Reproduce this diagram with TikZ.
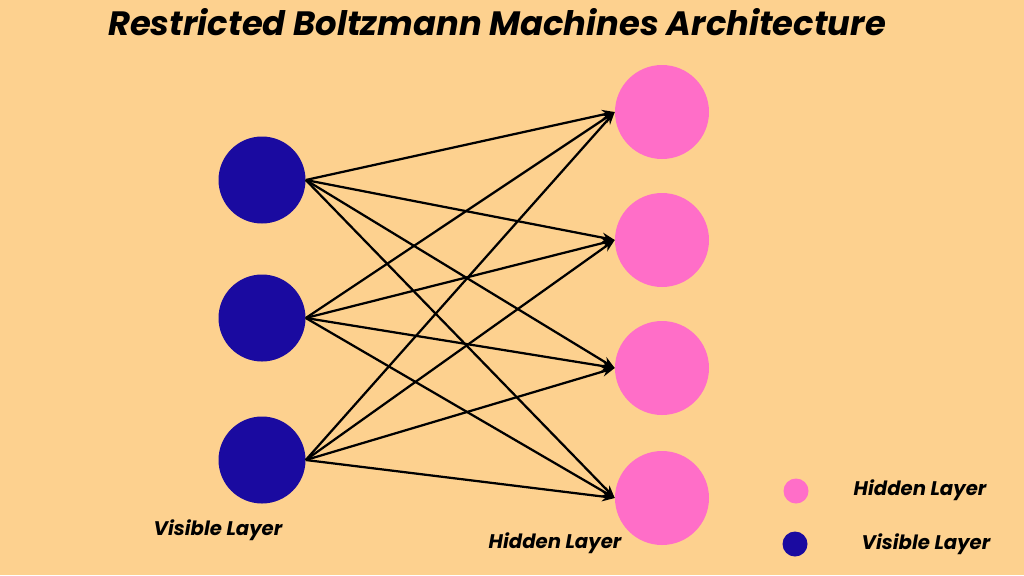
\documentclass[tikz,border=0pt]{standalone}
\usepackage{fontspec}
\setmainfont{Poppins}
\usetikzlibrary{arrows.meta}
\definecolor{bgcol}{HTML}{FDD18F}
\definecolor{viscol}{HTML}{1A0AA0}
\definecolor{hidcol}{HTML}{FF6EC8}
\begin{document}
\begin{tikzpicture}[
  x=0.025cm, y=-0.025cm,
  > = {Stealth[length=9pt,width=7pt]},
  visible/.style = {circle,fill=viscol,minimum size=87*0.025cm,inner sep=0pt},
  hidden/.style = {circle,fill=hidcol,minimum size=94*0.025cm,inner sep=0pt},
  lbl/.style = {font=\fontsize{14}{16}\selectfont\bfseries\itshape}
  ]
	\fill[bgcol] (0,0) rectangle (1024,575);
	\useasboundingbox (0,0) rectangle (1024,575);

	\node[font=\fontsize{24}{28}\selectfont\bfseries\itshape] (title) at (497,22) {Restricted Boltzmann Machines Architecture};

	% visible layer
	\node[visible] (v1) at (262,180) {};
	\node[visible] (v2) at (262,318) {};
	\node[visible] (v3) at (262,460) {};

	% hidden layer
	\node[hidden] (h1) at (662,112) {};
	\node[hidden] (h2) at (662,240) {};
	\node[hidden] (h3) at (662,368) {};
	\node[hidden] (h4) at (662,498) {};

	\foreach \v in {1,2,3}
	  \foreach \h in {1,2,3,4}
	    \draw[->,line width=1.6pt] (v\v.east) -- (h\h.west);

	\node[lbl] (vl) at (218,530) {Visible Layer};
	\node[lbl] (hl) at (555,543) {Hidden Layer};

	% legend
	\node[circle,fill=hidcol,minimum size=25*0.025cm,inner sep=0pt] (lh) at (796,491) {};
	\node[circle,fill=viscol,minimum size=25*0.025cm,inner sep=0pt] (lv) at (795,544) {};
	\node[lbl] (lht) at (920,490) {Hidden Layer};
	\node[lbl] (lvt) at (926,544) {Visible Layer};
\end{tikzpicture}
\end{document}
